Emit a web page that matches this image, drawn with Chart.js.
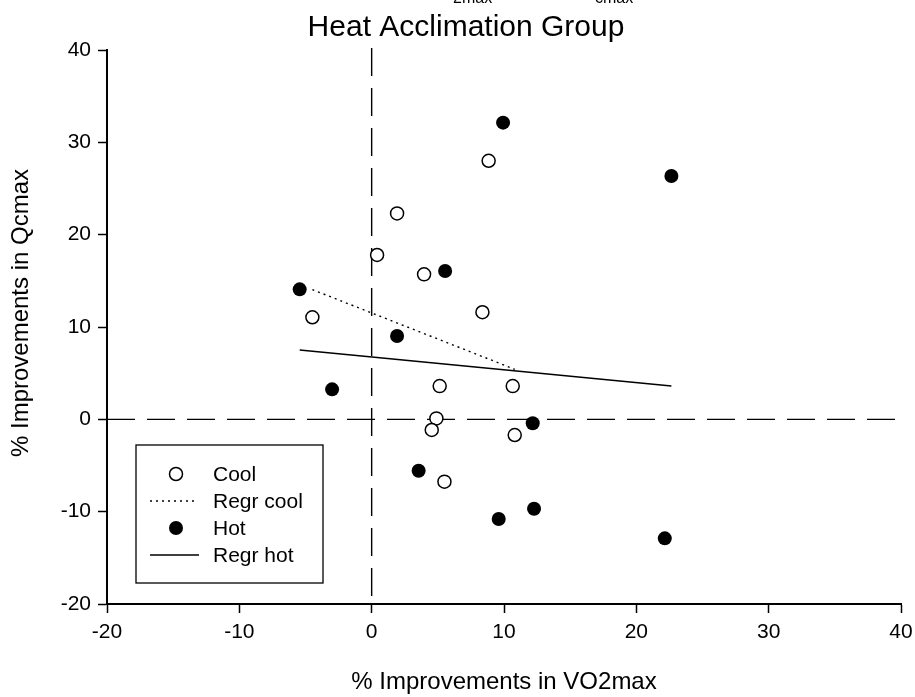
<!DOCTYPE html>
<html>
<head>
<meta charset="utf-8">
<script src="https://cdn.jsdelivr.net/npm/chart.js@4.4.0/dist/chart.umd.min.js"></script>
<style>
  html, body { margin: 0; padding: 0; background: #fff; }
  #wrap { width: 915px; height: 697px; }
</style>
</head>
<body>
<div id="wrap"><canvas id="c" width="915" height="697"></canvas></div>
<script>
// % improvements: VO2max (x) vs Qcmax (y), heat acclimation group
const coolX = [8.84, 1.92, 0.41, 3.96, 8.37, -4.48, 5.14, 10.66, 4.89, 4.54, 10.81, 5.5];
const coolY = [28.0, 22.3, 17.8, 15.7, 11.6, 11.05, 3.6, 3.6, 0.1, -1.15, -1.7, -6.75];

const hotX = [-5.44, 9.93, 5.55, 1.92, -2.99, 12.17, 22.65, 3.55, 9.6, 12.27, 22.15];
const hotY = [14.08, 32.13, 16.07, 9.02, 3.25, -0.43, 26.36, -5.57, -10.8, -9.69, -12.89];

// regression line end points
const regrCoolX = [-4.48, 10.81];
const regrCoolY = [14.05, 5.42];
const regrHotX = [-5.44, 22.65];
const regrHotY = [7.51, 3.61];

const xTickValues = [-20, -10, 0, 10, 20, 30, 40];
const yTickValues = [-20, -10, 0, 10, 20, 30, 40];

const legendLabels = ['Cool', 'Regr cool', 'Hot', 'Regr hot'];
const titleText = 'Heat Acclimation Group';
const xTitle = '% Improvements in VO2max';
const yTitle = '% Improvements in Qcmax';

const FONT = '"Liberation Sans", Arial, Helvetica, sans-serif';

const pts = (xs, ys) => xs.map((x, i) => ({ x, y: ys[i] }));

// dashed reference lines through the origin
const zeroLines = {
  id: 'zeroLines',
  beforeDatasetsDraw(chart) {
    const { ctx, chartArea: a, scales: { x, y } } = chart;
    const x0 = x.getPixelForValue(0);
    const y0 = y.getPixelForValue(0);
    ctx.save();
    ctx.strokeStyle = '#000';
    ctx.lineWidth = 1.4;
    ctx.setLineDash([28, 12]);
    ctx.beginPath();
    ctx.moveTo(a.left, y0);
    ctx.lineTo(a.right, y0);
    ctx.stroke();
    ctx.beginPath();
    ctx.moveTo(x0, a.top - 2);
    ctx.lineTo(x0, a.bottom);
    ctx.stroke();
    ctx.restore();
  }
};

// titles, axis titles and the boxed legend
const decorations = {
  id: 'decorations',
  afterDraw(chart) {
    const { ctx, chartArea: a } = chart;
    ctx.save();
    ctx.fillStyle = '#000';

    // clipped heading line above the title (only subscripts remain)
    ctx.font = '16px ' + FONT;
    ctx.textAlign = 'left';
    ctx.textBaseline = 'alphabetic';
    ctx.fillText('2max', 453, 3);
    ctx.fillText('cmax', 595, 3);

    ctx.font = '30px ' + FONT;
    ctx.textAlign = 'center';
    ctx.fillText(titleText, 466, 36);

    ctx.font = '24px ' + FONT;
    ctx.fillText(xTitle, (a.left + a.right) / 2, 689);

    ctx.save();
    ctx.translate(28, 313);
    ctx.rotate(-Math.PI / 2);
    ctx.fillText(yTitle, 0, 0);
    ctx.restore();

    // legend
    const bx = 136, by = 445, bw = 187, bh = 138;
    ctx.fillStyle = '#fff';
    ctx.fillRect(bx, by, bw, bh);
    ctx.strokeStyle = '#000';
    ctx.lineWidth = 1.3;
    ctx.strokeRect(bx, by, bw, bh);

    const rows = [474, 501, 528, 555];
    const mx = 176, tx = 213;
    ctx.font = '21px ' + FONT;
    ctx.textAlign = 'left';
    ctx.textBaseline = 'middle';

    // Cool
    ctx.beginPath();
    ctx.arc(mx, rows[0], 6.5, 0, Math.PI * 2);
    ctx.fillStyle = '#fff';
    ctx.fill();
    ctx.lineWidth = 1.5;
    ctx.stroke();
    // Regr cool
    ctx.beginPath();
    ctx.setLineDash([2, 4]);
    ctx.lineWidth = 1.4;
    ctx.moveTo(150, rows[1]);
    ctx.lineTo(198, rows[1]);
    ctx.stroke();
    ctx.setLineDash([]);
    // Hot
    ctx.beginPath();
    ctx.arc(mx, rows[2], 7, 0, Math.PI * 2);
    ctx.fillStyle = '#000';
    ctx.fill();
    // Regr hot
    ctx.beginPath();
    ctx.lineWidth = 1.5;
    ctx.moveTo(150, rows[3]);
    ctx.lineTo(199, rows[3]);
    ctx.stroke();

    ctx.fillStyle = '#000';
    legendLabels.forEach((t, i) => ctx.fillText(t, tx, rows[i] + 1));
    ctx.restore();
  }
};

const axisCommon = (values) => ({
  type: 'linear',
  min: values[0],
  max: values[values.length - 1],
  afterBuildTicks(s) { s.ticks = values.map(v => ({ value: v })); },
  border: { display: true, color: '#000', width: 2 },
  grid: {
    display: true,
    drawOnChartArea: false,
    drawTicks: true,
    tickLength: 9,
    tickWidth: 1.5,
    tickColor: '#000',
    color: '#000'
  },
  ticks: {
    color: '#000',
    font: { family: FONT, size: 21 },
    padding: 7,
    callback: v => String(v)
  }
});

const xAxis = axisCommon(xTickValues);
xAxis.afterFit = s => { s.height = 93; s.paddingLeft = 0; s.paddingRight = 0; };
const yAxis = axisCommon(yTickValues);
yAxis.afterFit = s => { s.width = 107; s.paddingTop = 0; s.paddingBottom = 0; };

new Chart(document.getElementById('c'), {
  type: 'scatter',
  data: {
    datasets: [
      {
        label: legendLabels[1],
        data: pts(regrCoolX, regrCoolY),
        showLine: true,
        borderColor: '#000',
        borderWidth: 1.4,
        borderDash: [2, 4],
        pointRadius: 0,
        fill: false
      },
      {
        label: legendLabels[3],
        data: pts(regrHotX, regrHotY),
        showLine: true,
        borderColor: '#000',
        borderWidth: 1.5,
        pointRadius: 0,
        fill: false
      },
      {
        label: legendLabels[0],
        data: pts(coolX, coolY),
        pointRadius: 6.5,
        pointBackgroundColor: '#fff',
        pointBorderColor: '#000',
        pointBorderWidth: 1.5
      },
      {
        label: legendLabels[2],
        data: pts(hotX, hotY),
        pointRadius: 7,
        pointBackgroundColor: '#000',
        pointBorderColor: '#000',
        pointBorderWidth: 0
      }
    ]
  },
  options: {
    responsive: false,
    devicePixelRatio: 1,
    animation: false,
    layout: { padding: { top: 50, right: 14, left: 0, bottom: 0 } },
    plugins: {
      legend: { display: false },
      title: { display: false },
      tooltip: { enabled: false }
    },
    scales: { x: xAxis, y: yAxis }
  },
  plugins: [zeroLines, decorations]
});
</script>
</body>
</html>
